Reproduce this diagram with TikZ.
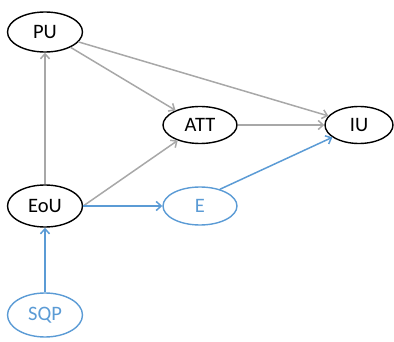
\documentclass[tikz,border=0pt]{standalone}
\usepackage{fontspec}
\setmainfont{Carlito}
\usetikzlibrary{shapes.geometric,arrows.meta}
\definecolor{linkgray}{RGB}{168,168,168}
\definecolor{officeblue}{RGB}{91,155,213}
\begin{document}
\begin{tikzpicture}[x=1pt,y=-1pt,
  construct/.style={ellipse,draw=black,line width=1.4pt,minimum width=75pt,minimum height=40pt,inner sep=0pt,font=\fontsize{20.5}{24}\selectfont},
  extconstruct/.style={construct,draw=officeblue,text=officeblue},
  link/.style={draw=linkgray,line width=1.5pt,-{Straight Barb[length=5pt,width=9pt]}},
  extlink/.style={link,draw=officeblue}]
\useasboundingbox (0,0) rectangle (394,342);
\node[construct] (PU) at (45,32) {PU};
\node[construct,minimum width=74pt,minimum height=37pt] (ATT) at (200,125) {ATT};
\node[construct,minimum width=68pt,minimum height=37pt] (IU) at (359,125) {IU};
\node[construct,minimum height=42pt] (EoU) at (45,206) {EoU};
\node[extconstruct,minimum width=74pt,minimum height=38pt] (E) at (200,206) {E};
\node[extconstruct,minimum height=44pt] (SQP) at (45,315) {SQP};
\draw[link] (EoU) -- (PU);
\draw[link] (PU) -- (ATT);
\draw[link] (PU) -- (IU);
\draw[link] (EoU.east) -- (ATT);
\draw[link] (ATT) -- (IU);
\draw[extlink] (EoU.east) -- (E.west);
\draw[extlink] (E.40) -- (IU);
\draw[extlink] (SQP) -- (EoU);
\end{tikzpicture}
\end{document}
